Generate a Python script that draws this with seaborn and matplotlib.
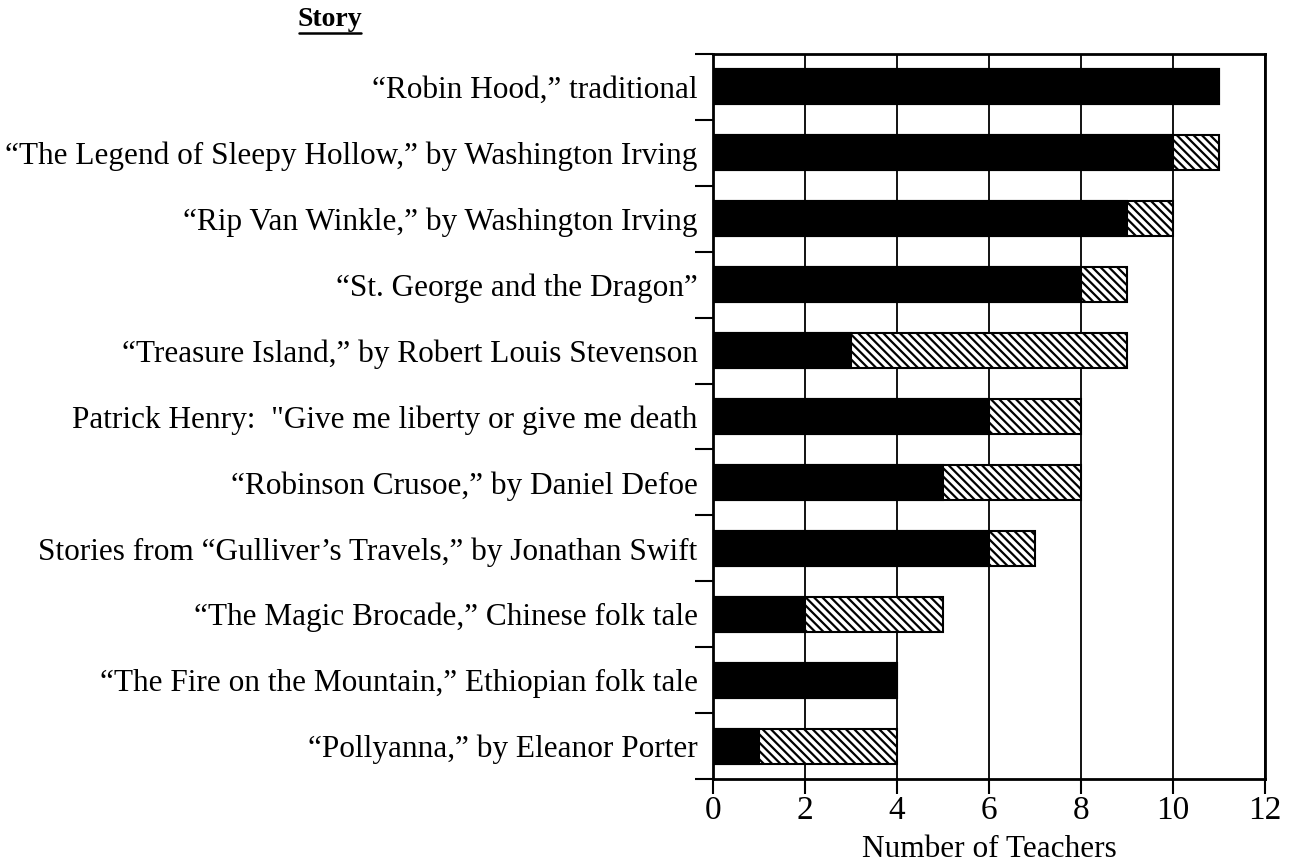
import numpy as np
import pandas as pd
import matplotlib
matplotlib.use("Agg")
import matplotlib.pyplot as plt
import seaborn as sns

# Data
stories = [
    "\u201cRobin Hood,\u201d traditional",
    "\u201cThe Legend of Sleepy Hollow,\u201d by Washington Irving",
    "\u201cRip Van Winkle,\u201d by Washington Irving",
    "\u201cSt. George and the Dragon\u201d",
    "\u201cTreasure Island,\u201d by Robert Louis Stevenson",
    "Patrick Henry:  \"Give me liberty or give me death",
    "\u201cRobinson Crusoe,\u201d by Daniel Defoe",
    "Stories from \u201cGulliver\u2019s Travels,\u201d by Jonathan Swift",
    "\u201cThe Magic Brocade,\u201d Chinese folk tale",
    "\u201cThe Fire on the Mountain,\u201d Ethiopian folk tale",
    "\u201cPollyanna,\u201d by Eleanor Porter",
]
solid = [11, 10, 9, 8, 3, 6, 5, 6, 2, 4, 1]
hatched = [0, 1, 1, 1, 6, 2, 3, 1, 3, 0, 3]
x_ticks = [0, 2, 4, 6, 8, 10, 12]

df = pd.DataFrame({"story": stories, "solid": solid, "hatched": hatched})
df["total"] = df["solid"] + df["hatched"]

sns.set_style("white")
plt.rcParams["font.family"] = ["Liberation Serif", "DejaVu Serif"]
plt.rcParams["text.color"] = "black"
plt.rcParams["xtick.color"] = "black"
plt.rcParams["ytick.color"] = "black"
plt.rcParams["axes.labelcolor"] = "black"
plt.rcParams["hatch.linewidth"] = 1.6
plt.rcParams["hatch.color"] = "black"

fig = plt.figure(figsize=(12.95, 8.63), dpi=100)
ax = fig.add_axes([713 / 1295, 1 - 779 / 863, 552 / 1295, 725 / 863])

# hatched part = whole bar, then the solid part on top
sns.barplot(data=df, x="total", y="story", orient="h", color="white",
            edgecolor="black", linewidth=1.5, hatch="\\\\\\\\", width=0.53,
            saturation=1, ax=ax, zorder=3)
sns.barplot(data=df, x="solid", y="story", orient="h", color="black",
            edgecolor="black", linewidth=1.5, width=0.53,
            saturation=1, ax=ax, zorder=4)

ax.set_xlim(0, 12)
ax.set_ylim(len(stories) - 0.5, -0.5)
ax.set_xticks(x_ticks)
ax.set_xticklabels([str(t) for t in x_ticks], fontsize=24)
ax.tick_params(axis="x", bottom=True, direction="out", length=11, width=1.5, pad=1)
ax.tick_params(axis="y", which="major", left=True, length=0, labelsize=22.5, pad=11)
ax.set_yticks(np.arange(-0.5, len(stories)), minor=True)
ax.tick_params(axis="y", which="minor", left=True, direction="out", length=13, width=1.5)
ax.set_ylabel("")
ax.set_xlabel("Number of Teachers", fontsize=22.5, labelpad=6)

ax.grid(axis="x", color="black", linewidth=1.3, zorder=1)
ax.set_axisbelow(True)
for sp in ax.spines.values():
    sp.set_visible(True)
    sp.set_color("black")
    sp.set_linewidth(2)

fig.text(330 / 1295, 1 - 20 / 863, "Story", fontsize=20, fontweight="bold",
         ha="center", va="center")
fig.add_artist(plt.Line2D([299 / 1295, 361 / 1295], [1 - 33 / 863, 1 - 33 / 863],
                          color="black", linewidth=1.8))

fig.savefig("out.png", dpi=100)
